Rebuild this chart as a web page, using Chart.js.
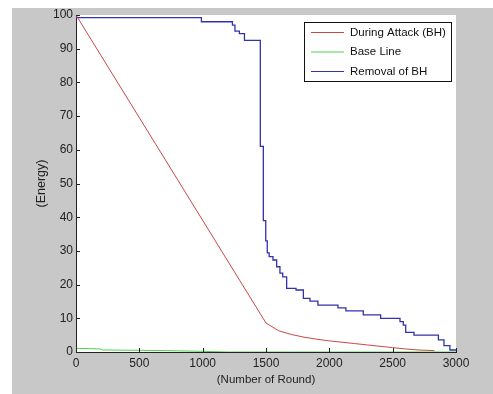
<!DOCTYPE html>
<html lang="en">
<head>
  <meta charset="UTF-8" />
  <title>Energy x Number of Round</title>
  <script src="https://cdn.jsdelivr.net/npm/chart.js"></script>
  <style>
    body { margin: 0; background: #fff; }
    #grafico { position: absolute; left: 12px; top: 8px; }
  </style>
</head>
<body>
  <canvas id="grafico" width="481" height="386"></canvas>

<script>
// valores
const rotulos = ['During Attack (BH)', 'Base Line', 'Removal of BH'];
const cores = ['#c84848', '#4fd24f', '#3232aa'];

const roundsAtaque = [0, 1500, 1600, 1700, 1800, 1900, 2000, 2100, 2200, 2300, 2400, 2500, 2600, 2700, 2830];
const energiaAtaque = [100, 8.6, 6.3, 5.2, 4.4, 3.8, 3.3, 2.9, 2.5, 2.1, 1.7, 1.3, 0.9, 0.6, 0.4];

const roundsBase = [0, 190, 210, 500, 800, 1000, 1200, 3000];
const energiaBase = [1.1, 0.9, 0.6, 0.5, 0.35, 0.2, 0, 0];

// degraus: valor vale a partir do round indicado
const roundsRemocao = [0, 990, 1235, 1255, 1290, 1330, 1455, 1479, 1498, 1510, 1525, 1555, 1584, 1610, 1632, 1663,
  1737, 1795, 1847, 1910, 2068, 2131, 2268, 2405, 2558, 2584, 2603, 2668, 2861, 2905, 2952, 3000];
const energiaRemocao = [100, 99.2, 98, 97, 95.2, 94.5, 92.5, 61, 39, 33, 29.4, 28.3, 27.3, 25.3, 23.4, 22.3,
  18.9, 18.4, 15.9, 15.1, 13.9, 13.1, 12.2, 11, 10, 9, 8, 5.8, 5, 3.6, 1.9, 0.6];

const ticksX = [0, 500, 1000, 1500, 2000, 2500, 3000];
const ticksY = [0, 10, 20, 30, 40, 50, 60, 70, 80, 90, 100];

const pontos = (xs, ys) => xs.map((x, i) => ({ x: x, y: ys[i] }));

const fundo = {
  id: 'fundo',
  beforeDraw(chart) {
    const { ctx, chartArea: a } = chart;
    ctx.save();
    ctx.fillStyle = '#c8c8c8';
    ctx.fillRect(0, 0, chart.width, chart.height);
    ctx.fillStyle = '#fff';
    ctx.fillRect(a.left, a.top, a.right - a.left, a.bottom - a.top);
    ctx.restore();
  }
};

// marcas para dentro, estilo matlab, e a legenda com caixa
const extras = {
  id: 'extras',
  afterDraw(chart) {
    const { ctx, chartArea: a, scales } = chart;
    ctx.save();
    ctx.strokeStyle = '#222';
    ctx.lineWidth = 1;
    ctx.beginPath();
    ticksX.forEach(v => {
      const px = Math.round(scales.x.getPixelForValue(v)) + 0.5;
      ctx.moveTo(px, a.bottom);
      ctx.lineTo(px, a.bottom - 4);
    });
    ticksY.forEach(v => {
      const py = Math.round(scales.y.getPixelForValue(v)) + 0.5;
      ctx.moveTo(a.left, py);
      ctx.lineTo(a.left + 4, py);
    });
    ctx.stroke();

    ctx.fillStyle = '#fff';
    ctx.fillRect(292.5, 14.5, 147, 59);
    ctx.strokeStyle = '#111';
    ctx.strokeRect(292.5, 14.5, 147, 59);
    ctx.font = '11.5px "Liberation Sans", Arial, sans-serif';
    ctx.textBaseline = 'middle';
    ctx.textAlign = 'left';
    chart.data.datasets.forEach((ds, i) => {
      const y = 24.5 + i * 19.5;
      ctx.strokeStyle = ds.borderColor;
      ctx.beginPath();
      ctx.moveTo(299, y);
      ctx.lineTo(332, y);
      ctx.stroke();
      ctx.fillStyle = '#111';
      ctx.fillText(ds.label, 338, y);
    });
    ctx.restore();
  }
};

const fonte = { family: '"Liberation Sans", Arial, sans-serif' };

new Chart(document.getElementById('grafico'), {
  type: 'line',
  data: {
    datasets: [
      { label: rotulos[0], data: pontos(roundsAtaque, energiaAtaque), borderColor: cores[0] },
      { label: rotulos[1], data: pontos(roundsBase, energiaBase), borderColor: cores[1] },
      { label: rotulos[2], data: pontos(roundsRemocao, energiaRemocao), borderColor: cores[2], stepped: 'after', borderWidth: 1.3 }
    ]
  },
  options: {
    responsive: false,
    animation: false,
    layout: { padding: { top: 7, right: 37, left: 0, bottom: 0 } },
    elements: {
      line: { borderWidth: 1, tension: 0 },
      point: { radius: 0 }
    },
    plugins: { legend: { display: false }, tooltip: { enabled: false } },
    scales: {
      x: {
        type: 'linear',
        min: 0,
        max: 3000,
        afterBuildTicks: s => { s.ticks = ticksX.map(v => ({ value: v })); },
        afterFit: s => { s.height = 42; s.paddingLeft = 0; s.paddingRight = 0; },
        grid: { display: false, drawTicks: false },
        border: { display: true, color: '#222', width: 1 },
        ticks: {
          color: '#222', padding: 4, maxRotation: 0, autoSkip: false,
          font: { ...fonte, size: 12 }, callback: v => String(v)
        },
        title: {
          display: true, text: '(Number of Round)', color: '#222',
          font: { ...fonte, size: 11.5, lineHeight: 1 }, padding: { top: 0, bottom: 8.5 }
        }
      },
      y: {
        min: 0,
        max: 100,
        afterBuildTicks: s => { s.ticks = ticksY.map(v => ({ value: v })); },
        afterFit: s => { s.width = 64; s.paddingTop = 0; s.paddingBottom = 0; },
        grid: { display: false, drawTicks: false },
        border: { display: true, color: '#222', width: 1 },
        ticks: { color: '#222', padding: 3, font: { ...fonte, size: 12 }, callback: v => String(v) },
        title: {
          display: true, text: '(Energy)', color: '#222',
          font: { ...fonte, size: 12.5, lineHeight: 1 }, padding: { top: 23, bottom: 0 }
        }
      }
    }
  },
  plugins: [fundo, extras]
});
</script>
</body>
</html>
